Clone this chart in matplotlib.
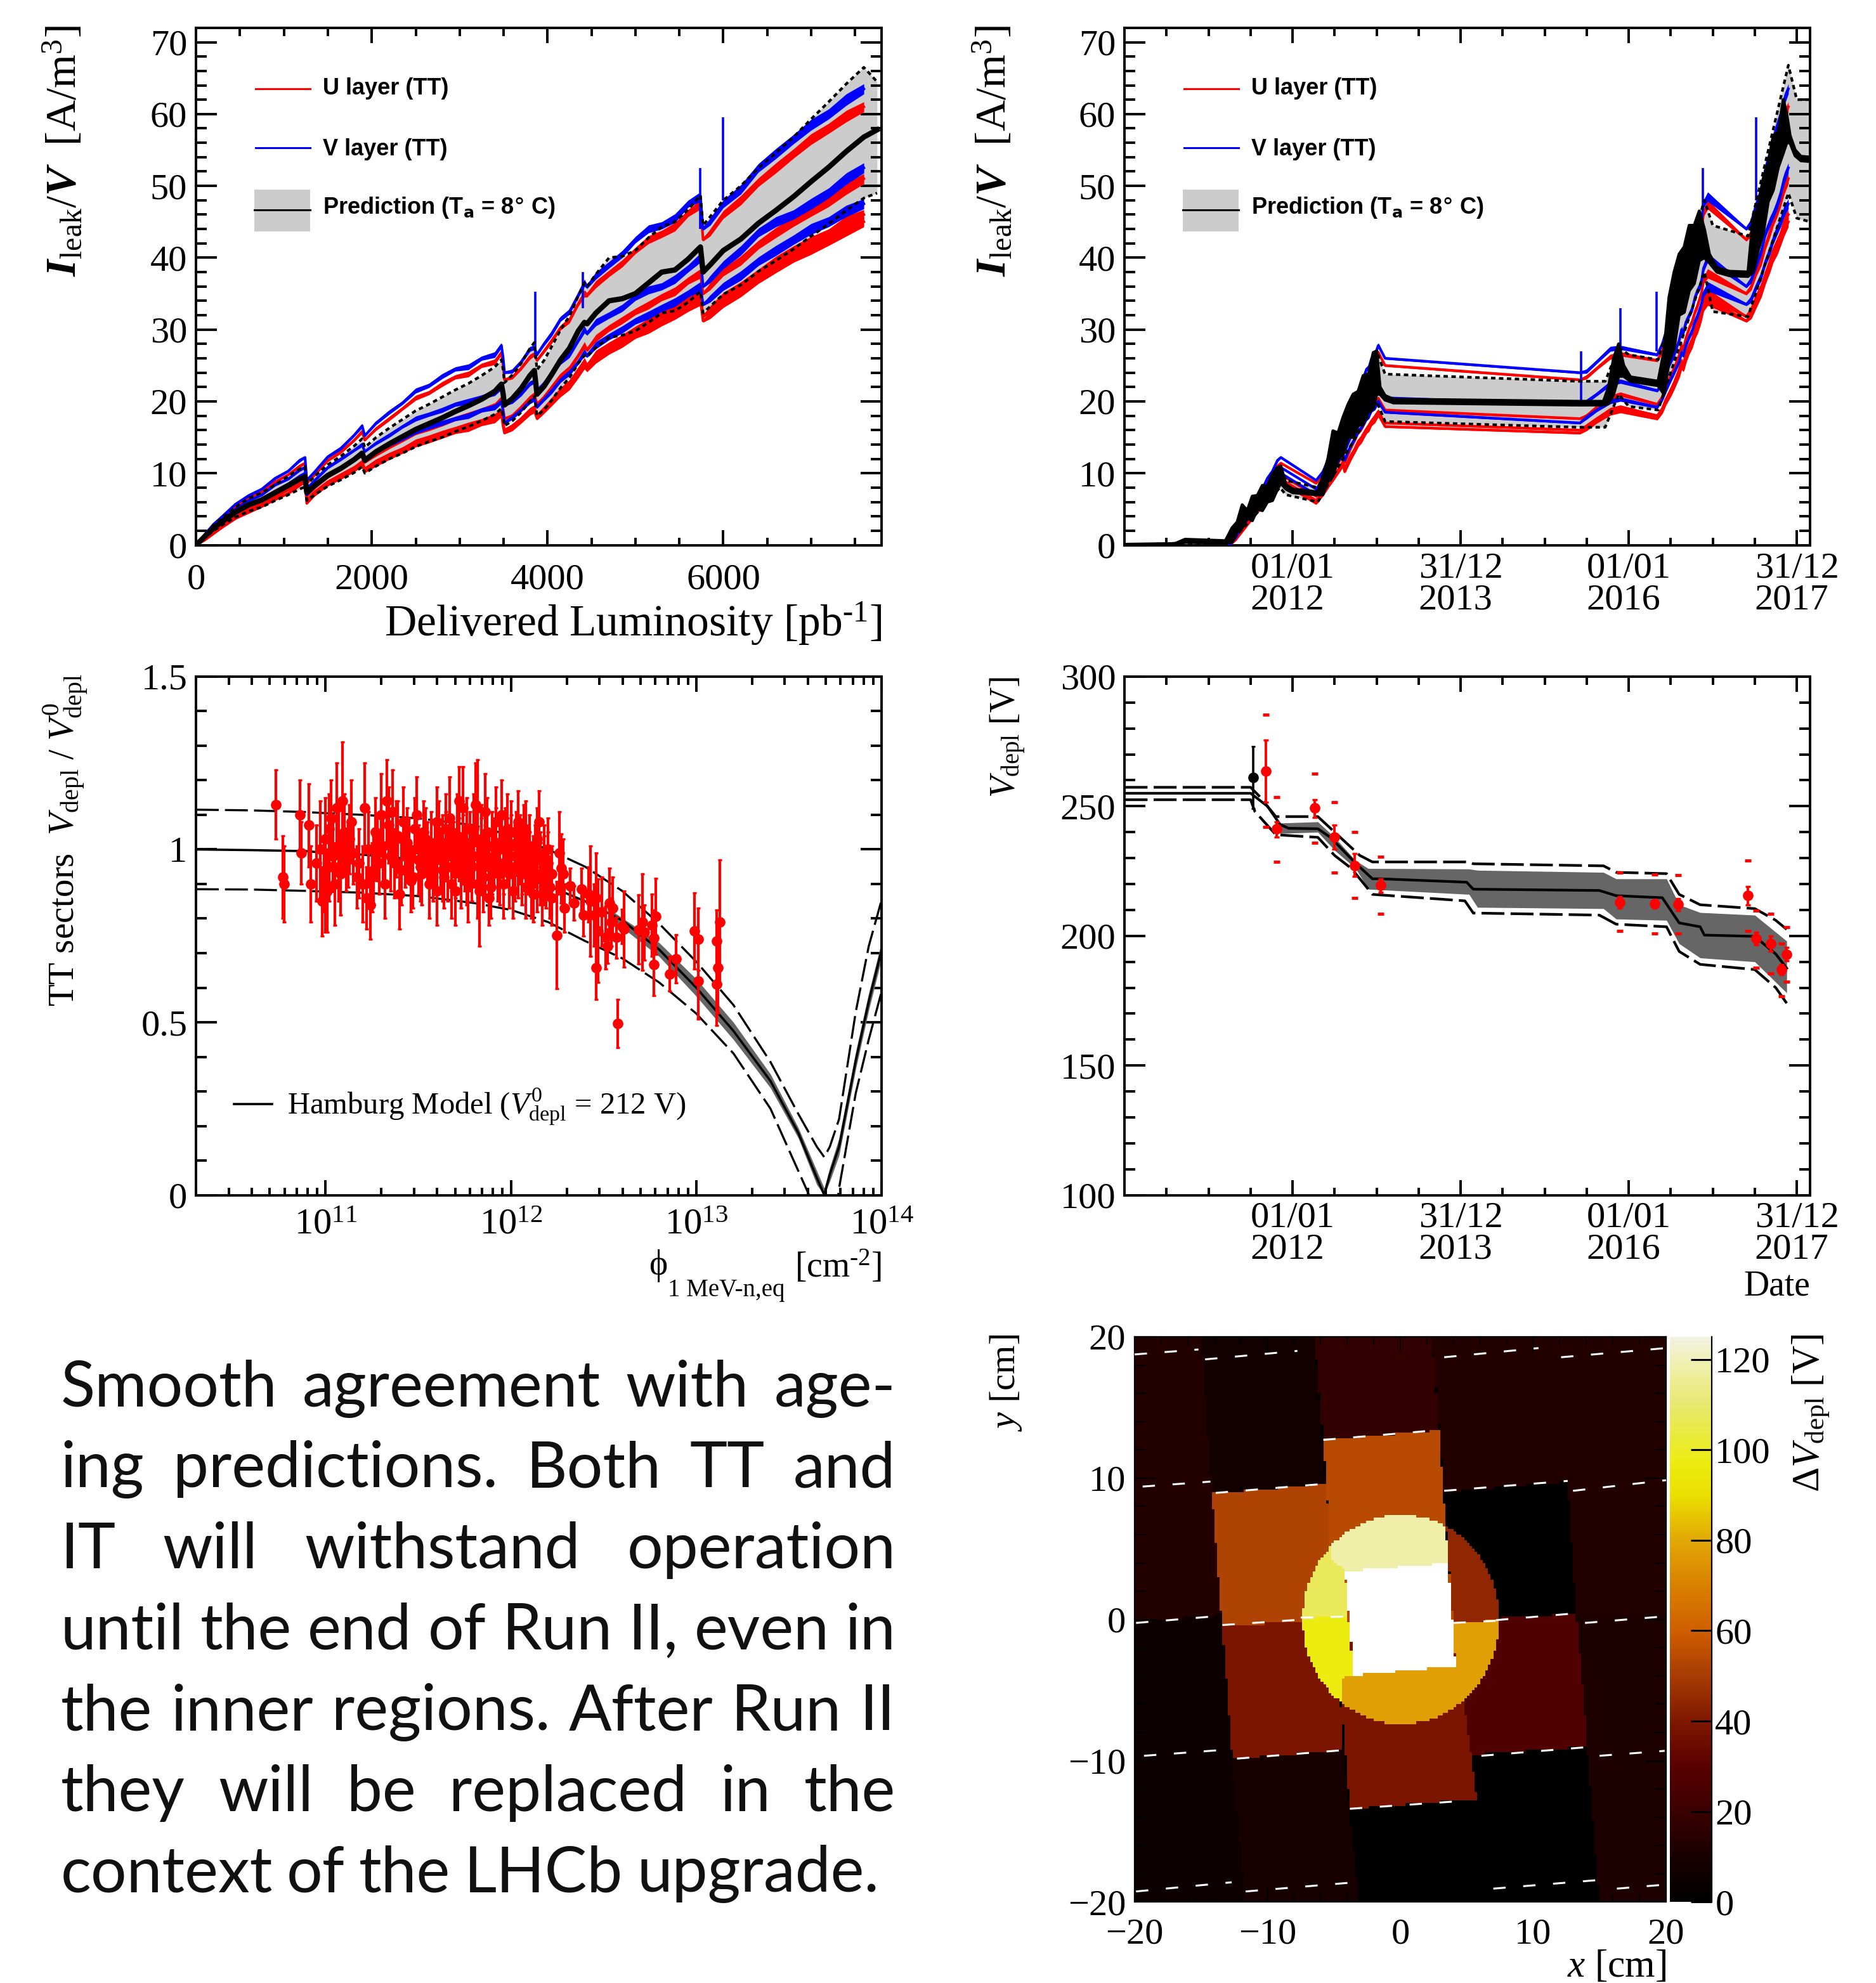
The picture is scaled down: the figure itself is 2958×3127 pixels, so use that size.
import numpy as np
import matplotlib
matplotlib.use('Agg')
import matplotlib.pyplot as plt
from matplotlib.colors import LinearSegmentedColormap, Normalize
from matplotlib.patches import Rectangle
from matplotlib.path import Path
from matplotlib.ticker import FixedLocator, NullFormatter

# ---------- data : leakage current vs luminosity / date ----------
lumi = [0,100,200,300,450,600,750,900,1050,1180,1240,1260,1350,1500,1650,1800,1890,1920,2050,2200,2350,2500,2650,2800,2950,3100,3250,3400,3475,3495,3510,3600,3700,3800,3850,3880,3960,4050,4150,4250,4350,4420,4450,4550,4700,4850,5000,5150,5300,5450,5600,5740,5770,5850,6000,6200,6400,6600,6800,7000,7200,7400,7600]
dates = [2011.25,2011.32,2011.38,2011.44,2011.52,2011.58,2011.64,2011.70,2011.76,2011.82,2011.86,2012.28,2012.36,2012.44,2012.50,2012.56,2012.60,2012.62,2012.66,2012.70,2012.74,2012.78,2012.82,2012.85,2012.88,2012.91,2012.94,2012.98,2013.02,2013.10,2015.42,2015.50,2015.62,2015.78,2015.90,2016.34,2016.40,2016.44,2016.50,2016.54,2016.60,2016.63,2016.65,2016.68,2016.72,2016.76,2016.79,2016.82,2016.85,2016.87,2016.89,2016.94,2017.40,2017.46,2017.52,2017.58,2017.63,2017.68,2017.72,2017.77,2017.81,2017.85,2017.90]
v_top = [0,1.5,2.9,4,5.7,6.9,7.8,9.3,10.3,11.8,12.2,9,10.2,12.3,13.5,15.3,16.6,15.2,17,18.5,19.8,21.5,22.2,23.5,24.5,24.8,26,26.5,27.8,26,24,24.2,25.5,27.3,27.5,26.5,28,29.5,31.5,32.5,34.8,36.5,36,37.5,39,40.5,42.5,44,44.5,45.5,47.5,48.5,44,45,47.5,49.5,52.5,54.5,56.5,58.5,60,62,63.5]
v_mid = [0,1.3,2.5,3.6,5,6.2,7,8.4,9.2,10.5,10.8,7.8,9,10.8,12,13.2,14,13,14.2,15.3,16.5,17.6,18.2,18.8,19.6,20,20.6,21.2,22,20.5,19.5,20,21,22.5,22.8,21.5,22.5,24,25.5,26.5,28.5,30,29.5,31,32,33,34.5,35.5,36,37,38.5,40,36,37,39,41,43.5,45,46,47.5,49,51,52.5]
v_low = [0,1,2.2,3.2,4.5,5.6,6.4,7.5,8.5,9.6,10,7,8.2,9.8,10.8,12,12.8,11.8,13,14,14.8,15.8,16.4,17,17.6,18,18.8,19.2,20,18.5,17,17.8,18.8,20,20.3,19.2,20.3,21.5,23,24,25.5,26.8,26.4,27.8,29,30,31.2,32,33,33.8,35,36,33.5,34.3,36,37.5,39.5,41,42.5,44,45,46.5,47.5]
u_top = [0,1.4,2.8,3.9,5.3,6.6,7.4,8.8,9.8,11,11.4,8.6,9.8,11.8,13,14.6,15.8,14.6,16.2,17.6,19,20.5,21.2,22.4,23.4,23.8,25,25.5,26.8,25,23,23.4,24.6,26.2,26.6,25.7,27,28.5,30.3,31.3,33.6,35,34.8,36.3,37.8,39.2,41,42.5,43.3,44.3,46.2,47.4,42.5,43.5,46,48,50.5,52.5,54.5,56.5,58,59.7,61]
u_mid = [0,1,2,3,4.4,5.6,6.3,7.5,8.3,9.4,9.8,6.8,8,9.5,10.6,11.8,12.6,11.5,12.6,13.7,14.6,15.7,16.2,16.9,17.6,18.1,18.8,19.4,20.4,18.8,17.6,18,19.2,20.5,21,19.6,20.6,22,23.6,24.6,26.4,27.8,27.2,28.8,30.2,31.3,32.5,33.4,34.5,35.3,36.8,37.8,35,36,38,39.6,41.8,43.5,45,46.5,47.8,49.6,51]
u_low = [0,.8,1.8,2.8,4,5,5.8,6.8,7.7,8.8,9.2,6.2,7.4,8.8,9.8,10.8,11.6,10.6,11.7,12.6,13.4,14.4,15,15.6,16.2,16.7,17.3,17.9,18.6,17,16,16.6,17.6,18.8,19.2,18,19,20.2,21.6,22.6,24.4,25.6,25,26.6,27.8,28.8,30,31,32,32.8,34,35,31.8,32.8,34.6,36,37.8,39.5,41,42.2,43.3,45,46]
u_min = [0,.7,1.6,2.5,3.7,4.6,5.4,6.4,7.2,8.4,8.8,5.8,7,8.4,9.4,10.4,11.2,10.2,11.2,12.2,13,14,14.5,15.2,15.8,16.2,16.9,17.4,18.2,16.5,15.6,16.2,17.2,18.4,18.7,17.6,18.6,19.8,21,22,23.6,25,24.4,25.8,27,28,29.2,30,31,32,33,34,31.2,32,33.6,35.2,37,38.6,40,41.2,42.4,43.8,45]
fuzz = [0,.1,.1,.15,.1,.2,.15,.2,.15,.25,.15,.1,.2,.2,.25,.2,.3,.1,.25,.3,.25,.35,.3,.35,.3,.4,.3,.4,.35,.15,.15,.3,.25,.35,.3,.2,.3,.4,.35,.4,.35,.5,.3,.5,.45,.5,.45,.55,.5,.6,.5,.65,.2,.5,.55,.65,.6,.7,.65,.75,.7,.8,.7]
lumi_pred = lumi + [7750]
pred_lumi = [0,1.2,2.4,3.3,4.6,5.6,6.3,7.3,8.3,9.2,9.5,7.3,8.3,9.7,10.7,11.9,12.8,11.8,13,14.1,15.1,16.1,16.9,17.7,18.6,19.4,20.3,21.4,22.4,21,19.5,20.4,21.8,23.6,24.3,21,22.1,23.8,25.8,27.4,29.8,31,30.8,32.3,34,34.3,35,36.5,38,38.3,39.8,41.5,38,39,41,42.6,44.8,46.6,48.5,50.6,52.6,54.8,56.8,57.8]
pred_up = [0,1.4,2.8,3.8,5.3,6.5,7.3,8.4,9.6,10.6,10.9,8.4,9.6,11.2,12.4,13.8,14.8,13.6,15,16.3,17.5,18.7,19.6,20.6,21.6,22.5,23.6,24.8,25.8,24.4,22.6,23.7,25.3,27.4,28.2,24.4,25.7,27.7,30,31.9,34.7,36.5,36,37.7,40,40.2,41,42.8,44.3,45,46.7,48.7,44.5,45.7,48,50,52.5,54.6,56.8,59.3,61.7,64.2,66.5,64.5]
pred_lo = [0,1,2,2.8,3.9,4.7,5.3,6.2,7,7.8,8.1,6.2,7,8.2,9.1,10.1,10.9,10,11,12,12.8,13.7,14.4,15,15.8,16.5,17.3,18.2,19,17.9,16.6,17.3,18.5,20,20.7,18,18.8,20.2,21.9,23.3,25.3,26.4,26.2,27.5,28.9,29.2,29.8,31,32.3,32.6,33.8,35.3,32.3,33.2,34.9,36.2,38.1,39.6,41.2,43,44.7,46.6,48.3,49]
spike_lumi = [3860,4400,5740,6000]
spike_base = [26,33,44,48]
spike_top = [35.3,38,52.5,59.5]

date_env = [2010.0,2010.6,2010.72,2011.2,2011.28,2011.34,2011.40,2011.46,2011.52,2011.58,2011.64,2011.70,2011.76,2011.82,2011.86,2011.92,2012.0,2012.3,2012.36,2012.42,2012.48,2012.54,2012.6,2012.66,2012.72,2012.78,2012.84,2012.9,2012.96,2013.0,2013.04,2013.1,2013.2,2015.4,2015.7,2015.76,2015.82,2015.88,2015.94,2016.02,2016.35,2016.42,2016.48,2016.54,2016.6,2016.66,2016.72,2016.78,2016.84,2016.9,2016.96,2017.05,2017.2,2017.42,2017.48,2017.54,2017.6,2017.66,2017.72,2017.78,2017.84,2017.88,2017.92,2017.98,2018.05,2018.16]
env_hi = [.1,.2,.8,.6,2.4,3.2,5.6,4.8,6.8,6.9,8.3,8.2,9.9,10.8,11,8.4,7.8,7.4,9.6,12,15.9,15.6,17.8,19.6,21,21.4,23.6,23.6,26.8,27,22,20.8,20.3,20,20,22,26,28,25,23.4,22.8,27,34.5,38,40.5,41.5,44.5,44.5,46.5,44,40.5,38.6,38.1,38,45.5,47,51,53,57,57.5,62,60,57,55,54.1,54]
env_lo = [0,0,.4,.3,.4,1.9,2.4,3.8,3.4,5,4.8,6,6.2,7.8,8.6,7.8,7.3,7,7,8.9,9.6,12,12.6,15,15,16.6,17,18.6,19,21,21,20.2,19.8,19.5,19.5,19.7,21,23.5,23.5,22.8,22.2,21,25.6,27.4,32,32.4,35.4,36.4,39.6,40,39.3,38,37.5,37.4,38,41,43.4,47.8,49.4,52.6,54.6,56,56,54.2,53.5,53.4]
band_date = [2010.0,2011.25,2011.85,2011.92,2012.3,2013.0,2013.1,2015.4,2015.72,2015.88,2016.0,2016.35,2016.9,2017.0,2017.42,2017.9,2018.0,2018.16]
band_up = [0,0.5,11,9,8,27,23.8,22.8,22.8,27.5,26.5,25.8,48,44.5,43,66.8,62,62]
band_lo = [0,0.3,8,7,6,20,17.2,16.4,16.4,21,19.3,18.8,38,32.5,31.8,49,45.5,45]
spike_date = [2015.43,2015.9,2016.33,2016.88,2017.52]
spike_date_base = [20,26,27,47,48]
spike_date_top = [27,33,35.3,52.5,59.5]

# ---------- data : V_depl ratio vs fluence ----------
phi_log = [10.73,10.77,10.775,10.86,10.87,10.91,10.92,10.95,10.97,10.98,10.99,11.0,11.01,11.02,11.03,11.04,11.06,11.07,11.08,11.09,11.10,11.11,11.13,11.15,11.17,11.2,11.22,11.23,11.25,11.27,11.29,11.3,11.31,11.33,11.34,11.35,11.36,11.38,11.4,11.41,11.42,11.43,11.44,11.46,11.48,11.5,11.52,11.53,11.55,11.57,11.58,11.6,11.61,11.62,11.63,11.64,11.65,11.66,11.67,11.68,11.69,11.7,11.71,11.72,11.73,11.74,11.75,11.76,11.77,11.78,11.79,11.8,11.81,11.82,11.83,11.84,11.85,11.86,11.87,11.88,11.89,11.9,11.91,11.92,11.93,11.94,11.95,11.96,11.97,11.98,11.99,12.0,12.01,12.02,12.03,12.04,12.05,12.06,12.07,12.08,12.09,12.1,12.11,12.12,12.13,12.14,12.15,12.16,12.17,12.18,12.19,12.2,12.21,12.22,12.246,12.26,12.27,12.28,12.29,12.32,12.34,12.38,12.39,12.42,12.43,12.45,12.46,12.46,12.47,12.49,12.51,12.52,12.53,12.55,12.54,12.57,12.575,12.60,12.61,12.69,12.71,12.72,12.76,12.77,12.77,12.78,12.855,12.89,12.99,13.01,13.01,13.11,13.11,13.115,13.125]
ratio = [1.13,.92,.90,1.10,.99,1.07,.90,.96,1.00,.85,.93,1.03,.88,.95,1.09,.98,1.12,1.01,.93,1.14,1.05,.97,1.03,.99,.92,.90,.86,1.0,.92,1.05,.96,1.10,1.01,1.14,1.07,.98,1.11,1.03,.87,.94,1.08,.98,1.02,.91,1.06,.97,.93,1.05,.99,1.01,.94,.88,1.05,.97,1.0,.92,1.02,.95,1.09,.9,1.0,.96,1.04,1.14,.93,1.0,.97,1.06,.9,1.02,.95,.98,1.13,1.12,.88,1.03,.92,.97,1.05,.95,.89,1.01,.98,1.08,.94,1.0,1.10,.96,1.03,.99,.93,1.05,.88,.98,1.02,.95,1.0,.93,1.03,.89,.97,1.01,.9,.95,.98,.92,1.08,.97,.87,.94,.91,.96,.89,.93,.752,.99,.945,.93,.83,.895,.845,.885,.81,.87,.85,.81,.86,.657,.765,.82,.745,.72,.845,.83,.79,.745,.496,.777,.77,.768,.79,.76,.78,.667,.744,.807,.64,.683,.765,.74,.62,.735,.61,.657,.79]
ratio_err = [.10,.12,.11,.10,.09,.12,.11,.11,.14,.10,.11,.12,.12,.10,.11,.10,.13,.11,.12,.17,.11,.09,.10,.09,.09,.11,.09,.11,.10,.10,.09,.12,.1,.12,.11,.1,.12,.11,.1,.1,.1,.09,.1,.09,.09,.1,.09,.09,.09,.1,.09,.1,.09,.09,.1,.09,.09,.1,.12,.1,.08,.1,.12,.10,.1,.1,.09,.09,.11,.09,.1,.09,.12,.14,.16,.1,.1,.1,.1,.09,.09,.1,.09,.1,.09,.1,.1,.09,.09,.1,.1,.09,.08,.09,.09,.09,.1,.09,.1,.09,.1,.09,.1,.09,.09,.1,.09,.08,.09,.1,.08,.09,.09,.08,.155,.12,.1,.1,.07,.05,.05,.06,.06,.08,.16,.09,.13,.09,.15,.1,.09,.05,.1,.09,.07,.06,.07,.05,.11,.1,.14,.08,.09,.09,.08,.11,.05,.07,.11,.09,.11,.09,.12,.13,.18]
phi_log2 = [11.0,11.02,11.05,11.07,11.12,11.14,11.18,11.21,11.24,11.26,11.28,11.32,11.37,11.39,11.45,11.47,11.49,11.51,11.54,11.56,11.59,11.6,11.63,11.65,11.68,11.7,11.72,11.74,11.76,11.78,11.8,11.82,11.84,11.86,11.88,11.9,11.92,11.94,11.96,11.98,12.0,12.02,12.04,12.06,12.08,12.1,12.12,12.14,12.16,12.18,12.2,12.22]
ratio2 = [.87,1.06,.9,.95,.98,1.08,.96,1.12,.84,.94,1.0,.9,.96,1.04,1.0,.92,1.1,.95,1.03,.9,.98,1.08,.94,1.06,.98,.88,1.0,1.12,.93,.97,1.06,.9,1.0,1.11,.86,.96,1.02,.93,.9,1.06,1.01,.94,1.08,.97,1.05,.96,.87,1.03,.93,.99,1.0,.86]
ratio2_err = [.11,.1,.12,.1,.09,.12,.1,.13,.1,.1,.09,.1,.1,.1,.09,.09,.11,.1,.09,.1,.09,.1,.09,.1,.1,.1,.09,.12,.09,.09,.1,.1,.09,.11,.08,.09,.1,.09,.1,.1,.09,.09,.09,.1,.09,.09,.08,.09,.09,.08,.09,.08]
curve_log = [10.3,10.6,10.9,11,11.2,11.5,11.8,12,12.2,12.4,12.6,12.8,13,13.2,13.4,13.55,13.65,13.69,13.72,13.77,13.86,13.93,14]
curve_mid = [1.0,.998,.995,.99,.985,.97,.95,.93,.895,.85,.795,.71,.60,.475,.33,.18,.05,0,.06,.14,.39,.56,.71]
curve_up = [1.115,1.113,1.108,1.105,1.10,1.09,1.07,1.04,1.0,.95,.88,.785,.675,.55,.385,.235,.14,.11,.14,.22,.53,.72,.855]
curve_lo = [.885,.884,.88,.878,.875,.865,.845,.825,.79,.735,.685,.615,.525,.41,.25,.07,-.05,-.2,-.2,0.02,.295,.45,.59]
grey_log = [12.55,12.8,13,13.2,13.4,13.55,13.65,13.69,13.72,13.77,13.86,13.93,14]
grey_hi = [.82,.73,.625,.5,.35,.195,.07,.02,.08,.165,.415,.585,.735]
grey_lo = [.795,.69,.575,.45,.31,.165,.03,0,.04,.115,.365,.535,.685]

# ---------- data : V_depl vs date ----------
vd_date = [2010.0,2011.5,2011.7,2011.85,2011.95,2012.3,2012.45,2012.75,2012.95,2013.05,2014.07,2014.15,2015.65,2015.85,2016.4,2016.6,2016.85,2016.9,2017.5,2017.75,2017.88]
vd_mid = [255,255,250,243,241.5,241.3,238,228,222,222,220.7,218,217.5,215.5,214.7,205,203.5,200.3,199.8,193,187.5]
up_date = [2010.0,2011.5,2011.6,2011.8,2012.3,2012.5,2012.8,2012.95,2014.1,2014.15,2015.7,2015.85,2016.45,2016.6,2016.85,2017.5,2017.75,2017.88]
vd_up = [257.3,257.3,254,246,246,240,231,228.5,228.5,227.8,227,224.5,224,216,212,210.5,206,202.5]
lo_date = [2010.0,2011.5,2011.55,2011.8,2012.3,2012.5,2012.7,2012.95,2014.05,2014.15,2015.65,2015.85,2016.45,2016.6,2016.85,2017.5,2017.75,2017.88]
vd_lo = [252.5,252.5,248,239,238,231,226,216,213.5,208.8,208,204.5,203.5,194,189,187,180,174]
grey_date = [2011.85,2012.3,2012.5,2012.75,2012.9,2014.1,2014.2,2015.7,2015.85,2016.45,2016.6,2016.85,2017.5,2017.88]
grey_up = [243.5,244,238,229,226,225.8,225.3,224.5,222,222,212,209,208,198]
grey_down = [239.5,240,233,226,218,216,211,210.5,206.5,206,197,191.5,190,178]
meas_date = [2011.68,2011.81,2012.26,2012.5,2012.74,2013.05,2015.89,2016.31,2016.59,2017.42,2017.52,2017.69,2017.82,2017.88]
meas_v = [263.6,241.2,249.4,238,227,219.5,213,212.5,212.2,215.7,199,197,186.9,192.9]
meas_hi = [275.6,244,252.6,242.8,231.8,222,215,214,214.3,219,201.3,200,188.9,195.5]
meas_lo = [251.6,238,245.6,233.4,222.9,216.7,210.7,210.7,209.8,212,196.6,194,185,190.3]
syst_hi = [285.4,253.5,262.5,251.6,240,230.5,224.4,223.7,223.5,229,209.7,208.4,197,203.4]
syst_lo = [242,228.6,236,224.5,214.6,208.4,201.8,201,200.8,202,187.8,185.5,176.6,182.3]
ref_date = [2011.53]
ref_v = [261]
ref_err = [12]

# ---------- data : delta V_depl map ----------
sector_vals = [13,5,7,52,39,9,18,54,13,13,11,27,0,39,0]
sector_corners = [
 [(-20,20),(-15.0,20),(-13.4,0.35),(-20,-0.2)],
 [(-20,-0.2),(-13.4,0.35),(-11.7,-20),(-20,-20)],
 [(-15.0,20),(-6.45,20),(-5.65,9.6),(-14.2,8.9)],
 [(-14.2,8.9),(-5.6,9.6),(-4.9,0.0),(-13.4,-0.5)],
 [(-13.4,-0.48),(-4.9,0.0),(-4.3,-9.25),(-12.65,-9.85)],
 [(-12.65,-9.85),(-4.3,-9.25),(-3.1,-20),(-11.7,-20)],
 [(-6.45,20),(2.4,20),(2.9,13.35),(-5.8,12.7)],
 [(-5.8,12.7),(2.9,13.35),(3.95,-0.1),(-4.9,-0.4)],
 [(2.4,20),(20,20),(20,9.4),(12.6,9.75),(3.3,9.0)],
 [(12.6,9.75),(20,9.8),(20,0.4),(13.25,0.4)],
 [(13.25,0.4),(20,0.4),(20,-20),(15,-20)],
 [(3.95,-0.1),(13.25,0.4),(14.1,-9.0),(4.8,-9.6)],
 [(3.3,9.0),(12.6,9.75),(13.25,0.4),(3.95,-0.1)],
 [(-4.9,-0.4),(3.95,-0.1),(5.76,-12.7),(-3.77,-13.4)],
 [(-3.77,-13.4),(5.76,-12.7),(6.5,-20),(-3.1,-20)],
]
inner_vals = [118,107,97,78,44]
inner_corners = [
 [(-5.4,9),(3.3,9),(3.6,4.0),(-4.15,3.4),(-5.15,4.3)],
 [(-9,9),(-5.4,9),(-5.15,4.3),(-4.15,3.4),(-3.95,0.2),(-9,0)],
 [(-9,0),(-3.95,0.2),(-3.5,-3.95),(-4.37,-4.16),(-4.2,-9),(-9,-9)],
 [(-4.37,-4.16),(-3.5,-3.95),(4.16,-3.32),(3.95,-0.15),(9,-0.05),(9,-9),(-4.2,-9)],
 [(3.3,9),(9,9),(9,-0.05),(3.95,-0.15)],
]
core_val = 200
core_corners = [(-4.15,3.4),(3.6,4.0),(4.16,-3.32),(-3.5,-3.95)]
disc_centre = (0.05, 0.0)
disc_radius = 7.4
dash_segments = [
 [(-20,18.75),(-15.2,19.1)],[(-14.7,18.4),(-7.75,19.0)],[(3.3,18.55),(10.4,19.2)],[(12.1,18.55),(20,19.2)],
 [(-19.4,9.4),(-14.3,9.75)],[(-13.9,8.95),(-5.6,9.6)],[(-5.8,12.7),(2.9,13.4)],[(3.3,9.1),(12.6,9.8)],[(13,9.1),(20,9.85)],
 [(-19.9,-0.25),(-13.6,0.25)],[(-13.4,-0.4),(-7.7,-0.03)],[(-7.5,0.13),(-4,0.2)],[(4,-0.25),(7.2,-0.1)],[(7.2,-0.05),(12.8,0.4)],[(13.9,-0.25),(19.7,0.2)],
 [(-19.3,-9.65),(-13.6,-9.25)],[(-12.3,-9.85),(-4.3,-9.25)],[(-3.8,-13.4),(4.6,-12.85)],[(6.1,-9.65),(13.9,-9.05)],[(15,-9.65),(19.9,-9.3)],
 [(-19.9,-19.25),(-12.7,-18.6)],[(-11.65,-19.25),(-3.4,-18.6)],[(7,-19.05),(14.8,-18.45)],[(16.3,-19.05),(19.5,-18.8)],
]
cmap_levels = [0,10,20,30,40,50,60,70,80,90,97,110,118,125]
cmap_colors = ['#000000','#1a0000','#3a0000','#5a0000','#7f1800','#a83c04','#cf5f00','#d98000','#e2a806','#eae000','#ecec10','#e8e870','#efefa8','#f2f2e6']

para_lines = ["Smooth agreement with age-", "ing predictions. Both TT and", "IT will withstand operation",
              "until the end of Run II, even in", "the inner regions. After Run II", "they will be replaced in the",
              "context of the LHCb upgrade."]
date_ticks = [2012, 2014, 2016, 2018]
date_labels = ['01/01\n2012', '31/12\n2013', '01/01\n2016', '31/12\n2017']

# ---------- style ----------
plt.rcParams.update({
    'font.family': ['Liberation Serif', 'DejaVu Serif'],
    'mathtext.fontset': 'custom',
    'mathtext.rm': 'Liberation Serif',
    'mathtext.it': 'Liberation Serif:italic',
    'mathtext.bf': 'Liberation Serif:bold',
    'mathtext.bfit': 'Liberation Serif:italic:bold',
    'axes.unicode_minus': False,
    'lines.scale_dashes': False,
    'axes.linewidth': 2.8,
})
W, H = 2958, 3127
SW, SH = 1483, 1568
fig = plt.figure(figsize=(W/100, H/100), dpi=100, facecolor='white')
LS = 42

def panel(x0, x1, y0, y1):
    return fig.add_axes([x0/SW, 1-y1/SH, (x1-x0)/SW, (y1-y0)/SH])

def T(x, y, s, **kw):
    kw.setdefault('fontsize', LS)
    return fig.text(x/SW, 1-y/SH, s, **kw)

def style(ax, xmaj=None, xmin=None, ymaj=None, ymin=None, lw=2.8, xpad=12):
    if xmaj is not None:
        ax.xaxis.set_major_locator(FixedLocator(xmaj))
    if xmin is not None:
        ax.xaxis.set_minor_locator(FixedLocator(xmin))
    if ymaj is not None:
        ax.yaxis.set_major_locator(FixedLocator(ymaj))
    if ymin is not None:
        ax.yaxis.set_minor_locator(FixedLocator(ymin))
    ax.xaxis.set_minor_formatter(NullFormatter())
    ax.tick_params(axis='x', which='major', direction='in', top=True, bottom=True, length=17, width=lw, labelsize=LS, pad=xpad)
    ax.tick_params(axis='x', which='minor', direction='in', top=True, bottom=True, length=9, width=lw)
    ax.tick_params(axis='y', which='major', direction='in', left=True, right=True, length=24, width=lw, labelsize=LS, pad=10)
    ax.tick_params(axis='y', which='minor', direction='in', left=True, right=True, length=12, width=lw)

def date_axis(ax, pad):
    ax.set_xlim(2010.0, 2018.16)
    style(ax, date_ticks, list(np.arange(2010.5, 2018.1, 0.5)), xpad=pad)
    ax.set_xticklabels(date_labels, multialignment='left', linespacing=0.95)

def leak_legend(ax, left):
    def pts(xs, ys):
        return (xs-left)/542, 1-(ys-22)/409
    off = left-155
    for ys, c in ((70, '#ff0000'), (117, '#0000ff')):
        x0, y = pts(202+off, ys)
        x1, _ = pts(245+off, ys)
        ax.plot([x0, x1], [y, y], color=c, lw=2.2, transform=ax.transAxes, zorder=9)
    x0, y1 = pts(201+off, 150)
    x1, y0 = pts(245+off, 183)
    ax.add_patch(Rectangle((x0, y0), x1-x0, y1-y0, transform=ax.transAxes, fc='#cccccc', ec='none', zorder=8))
    _, ym = pts(0, 166)
    ax.plot([x0, x1], [ym, ym], color='black', lw=2.2, transform=ax.transAxes, zorder=9)
    tx = 255+off
    sans = dict(family='Liberation Sans', fontweight='bold', fontsize=26, va='center')
    T(tx, 70, 'U layer (TT)', **sans)
    T(tx, 118, 'V layer (TT)', **sans)
    T(tx, 164, r'Prediction (T$_{\mathbf{a}}$ = 8$\degree$ C)', math_fontfamily='dejavusans', **sans)

def leak_lines(ax, xs):
    spread = np.array(fuzz)
    for y in (u_top, u_mid, u_low, u_min):
        ya = np.array(y)
        ax.fill_between(xs, ya-spread, ya+spread, color='#ff0000', lw=0, zorder=3)
        ax.plot(xs, ya, color='#ff0000', lw=3, zorder=3)
    for y in (v_top, v_mid, v_low):
        ya = np.array(y)
        ax.fill_between(xs, ya-spread, ya+spread, color='#0000ff', lw=0, zorder=4)
        ax.plot(xs, ya, color='#0000ff', lw=3, zorder=4)

dotted = (0, (5, 4))
long_dash = (0, (26, 7))

# ---------- panel 1 ----------
ax1 = panel(155, 697, 22, 431)
ax1.fill_between(lumi_pred, pred_lo, pred_up, color='#cccccc', lw=0, zorder=1)
leak_lines(ax1, lumi)
ax1.vlines(spike_lumi, spike_base, spike_top, color='#0000ff', lw=2.6, zorder=4)
ax1.plot(lumi_pred, pred_up, color='black', lw=3, ls=dotted, zorder=5)
ax1.plot(lumi_pred, pred_lo, color='black', lw=3, ls=dotted, zorder=5)
ax1.plot(lumi_pred, pred_lumi, color='black', lw=6, zorder=6)
ax1.set_xlim(0, 7803)
ax1.set_ylim(0, 72)
style(ax1, [0, 2000, 4000, 6000], list(np.arange(500, 7800, 500)), list(range(0, 71, 10)), list(range(0, 72, 2)), xpad=21)
leak_legend(ax1, 155)

# ---------- panel 2 ----------
ax2 = panel(889, 1431, 22, 431)
ax2.fill_between(band_date, band_lo, band_up, color='#cccccc', lw=0, zorder=1)
leak_lines(ax2, dates)
ax2.vlines(spike_date, spike_date_base, spike_date_top, color='#0000ff', lw=2.6, zorder=4)
ax2.plot(band_date, band_up, color='black', lw=3, ls=dotted, zorder=5)
ax2.plot(band_date, band_lo, color='black', lw=3, ls=dotted, zorder=5)
ax2.fill_between(date_env, env_lo, env_hi, color='black', lw=0, zorder=6)
ax2.plot(date_env, env_hi, color='black', lw=3.5, zorder=6)
ax2.plot(date_env, env_lo, color='black', lw=3.5, zorder=6)
ax2.set_ylim(0, 72)
date_axis(ax2, 8)
ax2.yaxis.set_major_locator(FixedLocator(list(range(0, 71, 10))))
ax2.yaxis.set_minor_locator(FixedLocator(list(range(0, 72, 2))))
leak_legend(ax2, 889)

# ---------- panel 3 ----------
ax3 = panel(155, 697, 535, 945)
phi = 10.0**np.array(phi_log)
phi2 = 10.0**np.array(phi_log2)
ax3.set_xscale('log')
ax3.plot(10.0**np.array(curve_log), curve_up, color='black', lw=2.4, ls=long_dash, zorder=2)
ax3.plot(10.0**np.array(curve_log), curve_lo, color='black', lw=2.4, ls=long_dash, zorder=2)
ax3.fill_between(10.0**np.array(grey_log), grey_lo, grey_hi, color='#666666', lw=0, zorder=2)
ax3.plot(10.0**np.array(curve_log), curve_mid, color='black', lw=2.6, zorder=3)
ax3.errorbar(phi, ratio, yerr=ratio_err, fmt='o', color='#ff0000', ms=11, elinewidth=3, capsize=2, capthick=2.4, zorder=4)
ax3.errorbar(phi2, ratio2, yerr=ratio2_err, fmt='o', color='#ff0000', ms=11, elinewidth=3, capsize=2, capthick=2.4, zorder=4)
ax3.set_xlim(2e10, 1e14)
ax3.set_ylim(0, 1.5)
xmin3 = [m*10.0**e for e in range(10, 14) for m in range(2, 10) if 2e10 <= m*10.0**e <= 1e14]
style(ax3, [1e11, 1e12, 1e13, 1e14], xmin3, [0, .5, 1, 1.5], list(np.arange(0, 1.51, .1)), xpad=15)
ax3.set_xticklabels([r'$\mathrm{10^{11}}$', r'$\mathrm{10^{12}}$', r'$\mathrm{10^{13}}$', r'$\mathrm{10^{14}}$'])
ax3.set_yticklabels(['0', '0.5', '1', '1.5'])
ax3.plot([(185-155)/542, (215-155)/542], [1-(873-535)/410]*2, color='black', lw=2.6, transform=ax3.transAxes)

# ---------- panel 4 ----------
ax4 = panel(889, 1431, 535, 945)
ax4.fill_between(grey_date, grey_down, grey_up, color='#666666', lw=0, zorder=1)
ax4.plot(vd_date, vd_mid, color='black', lw=3, zorder=2)
ax4.plot(up_date, vd_up, color='black', lw=3, ls=long_dash, zorder=2)
ax4.plot(lo_date, vd_lo, color='black', lw=3, ls=long_dash, zorder=2)
ax4.errorbar(ref_date, ref_v, yerr=ref_err, fmt='o', color='black', ms=11, elinewidth=2.6, capsize=2, capthick=2, zorder=4)
meas_v_a = np.array(meas_v)
ax4.errorbar(meas_date, meas_v, yerr=[meas_v_a-np.array(meas_lo), np.array(meas_hi)-meas_v_a], fmt='o', color='#ff0000',
             ms=11, elinewidth=2.8, capsize=3, capthick=2.5, zorder=5)
ax4.plot(meas_date, syst_hi, ls='none', marker='_', color='#ff0000', ms=7, mew=3.5, zorder=5)
ax4.plot(meas_date, syst_lo, ls='none', marker='_', color='#ff0000', ms=7, mew=3.5, zorder=5)
ax4.set_ylim(100, 300)
date_axis(ax4, 7)
ax4.yaxis.set_major_locator(FixedLocator(list(range(100, 301, 50))))
ax4.yaxis.set_minor_locator(FixedLocator(list(range(100, 301, 10))))

# ---------- panel 5 ----------
ax5 = panel(897, 1317, 1057, 1504)
xe = np.arange(-20, 20.01, 0.2)
ye = np.arange(-20, 20.01, 0.2)
xc, yc = np.meshgrid(0.5*(xe[:-1]+xe[1:]), 0.5*(ye[:-1]+ye[1:]))
pts_grid = np.column_stack([xc.ravel(), yc.ravel()])
Z = np.zeros(xc.size)
for v, poly in zip(sector_vals, sector_corners):
    Z[Path(poly + [poly[0]]).contains_points(pts_grid)] = v
disc = np.hypot(xc.ravel()-disc_centre[0], yc.ravel()-disc_centre[1]) <= disc_radius
for v, poly in zip(inner_vals, inner_corners):
    Z[Path(poly + [poly[0]]).contains_points(pts_grid) & disc] = v
Z[Path(core_corners + [core_corners[0]]).contains_points(pts_grid)] = core_val
Z = Z.reshape(xc.shape)
cmap = LinearSegmentedColormap.from_list('dv', [(l/125, c) for l, c in zip(cmap_levels, cmap_colors)], N=512)
cmap.set_over('white')
norm = Normalize(0, 125)
ax5.pcolormesh(xe, ye, Z, cmap=cmap, norm=norm, rasterized=True, zorder=1)
for seg in dash_segments:
    ax5.plot([seg[0][0], seg[1][0]], [seg[0][1], seg[1][1]], color='white', lw=2.2, ls=(0, (14, 20)), zorder=3)
ax5.set_xlim(-20, 20)
ax5.set_ylim(-20, 20)
for s in ax5.spines.values():
    s.set_linewidth(1.6)
style(ax5, [-20, -10, 0, 10, 20], list(range(-20, 21, 2)), [-20, -10, 0, 10, 20], list(range(-20, 21, 2)), lw=1.5, xpad=18)
ax5.set_xticklabels(['\u221220', '\u221210', '0', '10', '20'])
ax5.set_yticklabels(['\u221220', '\u221210', '0', '10', '20'])

cax = panel(1320, 1353, 1057, 1504)
lev = np.linspace(0, 125, 512)
cax.pcolormesh([0, 1], np.append(lev, 125.5), lev[:, None], cmap=cmap, norm=norm, rasterized=True)
cax.set_xlim(0, 1)
cax.set_ylim(0, 125)
cax.set_xticks([])
for k in ('left', 'top', 'bottom'):
    cax.spines[k].set_visible(False)
cax.spines['right'].set_linewidth(1.6)
cax.yaxis.tick_right()
cax.yaxis.set_major_locator(FixedLocator(list(range(0, 121, 20))))
cax.tick_params(axis='y', which='major', direction='in', length=24, width=2.2, labelsize=LS, pad=4, right=True, left=False)

# ---------- labels ----------
ylab = r'$\mathbfit{I}_{\mathrm{leak}}/\mathbfit{V}$  [A/m$^{3}$]'
T(50, 20, ylab, rotation=90, ha='center', va='top', fontsize=49)
T(785, 20, ylab, rotation=90, ha='center', va='top', fontsize=49)
T(697, 503, r'Delivered Luminosity [pb$^{\text{-}1}$]', ha='right', va='baseline', fontsize=50)
T(52, 533, r'TT sectors  $\mathit{V}_{\mathrm{depl}}$ / $\mathit{V}^{0}_{\mathrm{depl}}$', rotation=90, ha='center', va='top', fontsize=41)
T(227, 875, r'Hamburg Model ($\mathit{V}^{0}_{\mathrm{depl}}$ = 212 V)', ha='left', va='center', fontsize=35)
T(513, 1008, r'$\mathrm{\phi}$', ha='left', va='baseline', fontsize=40)
T(528, 1025, r'1 MeV-n,eq', ha='left', va='baseline', fontsize=28)
T(697, 1010, r'[cm$^{\text{-}2}$]', ha='right', va='baseline', fontsize=40)
T(797, 535, r'$\mathit{V}_{\mathrm{depl}}$ [V]', rotation=90, ha='center', va='top', fontsize=40)
T(1431, 1024, 'Date', ha='right', va='baseline', fontsize=40)
T(795, 1055, r'$\mathit{y}$ [cm]', rotation=90, ha='center', va='top', fontsize=42)
T(1317, 1563, r'$\mathit{x}$ [cm]', ha='right', va='baseline', fontsize=44)
T(1432, 1055, r'$\Delta\mathit{V}_{\mathrm{depl}}$ [V]', rotation=90, ha='center', va='top', fontsize=44)

# ---------- paragraph ----------
renderer = fig.canvas.get_renderer()
base0, dbase = 1112, 64
for i, line in enumerate(para_lines):
    words = line.split(' ')
    arts = [T(48, base0+i*dbase, w, family='Lato', fontsize=72, ha='left', va='baseline', color='#111111') for w in words]
    widths = [a.get_window_extent(renderer).width for a in arts]
    right_px = 695*W/SW if i == len(para_lines)-1 else 708*W/SW
    left_px = 48*W/SW
    gap = (right_px-left_px-sum(widths))/(len(words)-1)
    x = left_px
    for a, w_ in zip(arts, widths):
        a.set_x(x/W)
        x += w_+gap

fig.savefig('out.png', dpi=100, facecolor='white')
